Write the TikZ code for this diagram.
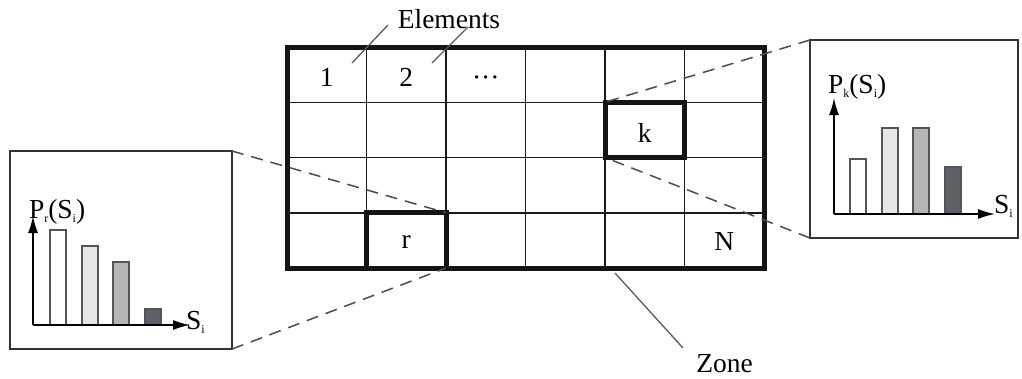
\documentclass[tikz,border=0pt]{standalone}
\usepackage{fontspec}
\setmainfont{Liberation Serif}
\usetikzlibrary{arrows.meta}
\definecolor{barA}{HTML}{FFFFFF}
\definecolor{barB}{HTML}{E6E6E6}
\definecolor{barC}{HTML}{B4B5B7}
\definecolor{barD}{HTML}{5E6266}
\definecolor{edge}{HTML}{555555}
\newcommand{\lowsub}[1]{\raisebox{-4.5pt}{\fontsize{12}{12}\selectfont #1}}
\begin{document}
\begin{tikzpicture}[x=1pt,y=-1pt,
  lbl/.style={font=\fontsize{27.5}{30}\selectfont, inner sep=0, outer sep=0},
  gridline/.style={line width=1.5, draw=black!90},
  zonebox/.style={draw=black!92, line width=5, minimum width=477, minimum height=221, inner sep=0, outer sep=0},
  thickbox/.style={draw=black!92, line width=5, minimum width=79.5, minimum height=55.25, inner sep=0, outer sep=0},
  zoombox/.style={draw=black!80, line width=1.5, inner sep=0, outer sep=0, minimum height=198},
  zoomline/.style={draw=black!70, line width=1.5, dash pattern=on 12 off 8},
  leader/.style={draw=black!65, line width=1.3},
  bar/.style={draw=edge, line width=1.5},
  axis/.style={line width=1.5, -{Latex[length=17,width=10]}},
]
\useasboundingbox (0,0) rectangle (1022,378);

% grid lines
\foreach \x in {366.5,446,525.5,605,684.5} \draw[gridline] (\x,47) -- (\x,268);
\foreach \y in {102.25,157.5,212.75} \draw[gridline] (287,\y) -- (764,\y);
\node[zonebox] (zone) at (525.5,157.5) {};

% highlighted cells
\node[thickbox] (kcell) at (644.75,129.875) {};
\node[thickbox] (rcell) at (406.25,240.375) {};

% cell labels
\node[lbl, anchor=base] (c1) at (326.75,86) {1};
\node[lbl, anchor=base] (c2) at (406.25,86) {2};
\node[lbl, anchor=base] (c3) at (485.75,86) {···};
\node[lbl, anchor=base] (ck) at (644.75,142) {k};
\node[lbl, anchor=base] (cr) at (406.25,248) {r};
\node[lbl, anchor=base] (cN) at (724.25,250) {N};

% Elements label
\node[lbl, anchor=base] (elem) at (449,28) {Elements};
\coordinate (e1a) at (388,25);
\coordinate (e1b) at (352,63);
\coordinate (e2a) at (468,27);
\coordinate (e2b) at (432,63);
\draw[leader] (e1a) -- (e1b);
\draw[leader] (e2a) -- (e2b);

% Zone label
\node[lbl, anchor=base] (zlbl) at (724.5,372) {Zone};
\coordinate (za) at (615,273);
\coordinate (zb) at (683,348);
\draw[leader] (za) -- (zb);

% zoom boxes
\node[zoombox, minimum width=222] (lbox) at (121,250) {};
\node[zoombox, minimum width=208] (rbox) at (914,139) {};

\draw[zoomline] (lbox.north east) -- (rcell.north east);
\draw[zoomline] (lbox.south east) -- (rcell.south east);
\draw[zoomline] (rbox.north west) -- (kcell.north west);
\draw[zoomline] (rbox.south west) -- (kcell.south west);

% left chart
\draw[bar, fill=barA] (50,325) rectangle (66,230);
\draw[bar, fill=barB] (82,325) rectangle (98,246);
\draw[bar, fill=barC] (113,325) rectangle (129,262);
\draw[bar, fill=barD] (145,325) rectangle (161,309);
\coordinate (lo) at (33,325);
\coordinate (ly) at (33,216);
\coordinate (lx) at (190,325);
\draw[axis] (lo) -- (ly);
\draw[axis] (lo) -- (lx);
\node[lbl, anchor=base west] (lpy) at (29,218) {P\lowsub{r}(S\lowsub{i})};
\node[lbl, anchor=base west] (lpx) at (186,329) {S\lowsub{i}};

% right chart
\draw[bar, fill=barA] (850,214) rectangle (866,159);
\draw[bar, fill=barB] (882,214) rectangle (898,128);
\draw[bar, fill=barC] (913,214) rectangle (929,128);
\draw[bar, fill=barD] (945,214) rectangle (961,167);
\coordinate (ro) at (834,214);
\coordinate (ry) at (834,98);
\coordinate (rx) at (995,214);
\draw[axis] (ro) -- (ry);
\draw[axis] (ro) -- (rx);
\node[lbl, anchor=base west] (rpy) at (828,93) {P\lowsub{k}(S\lowsub{i})};
\node[lbl, anchor=base west] (rpx) at (994,213) {S\lowsub{i}};
\end{tikzpicture}
\end{document}
